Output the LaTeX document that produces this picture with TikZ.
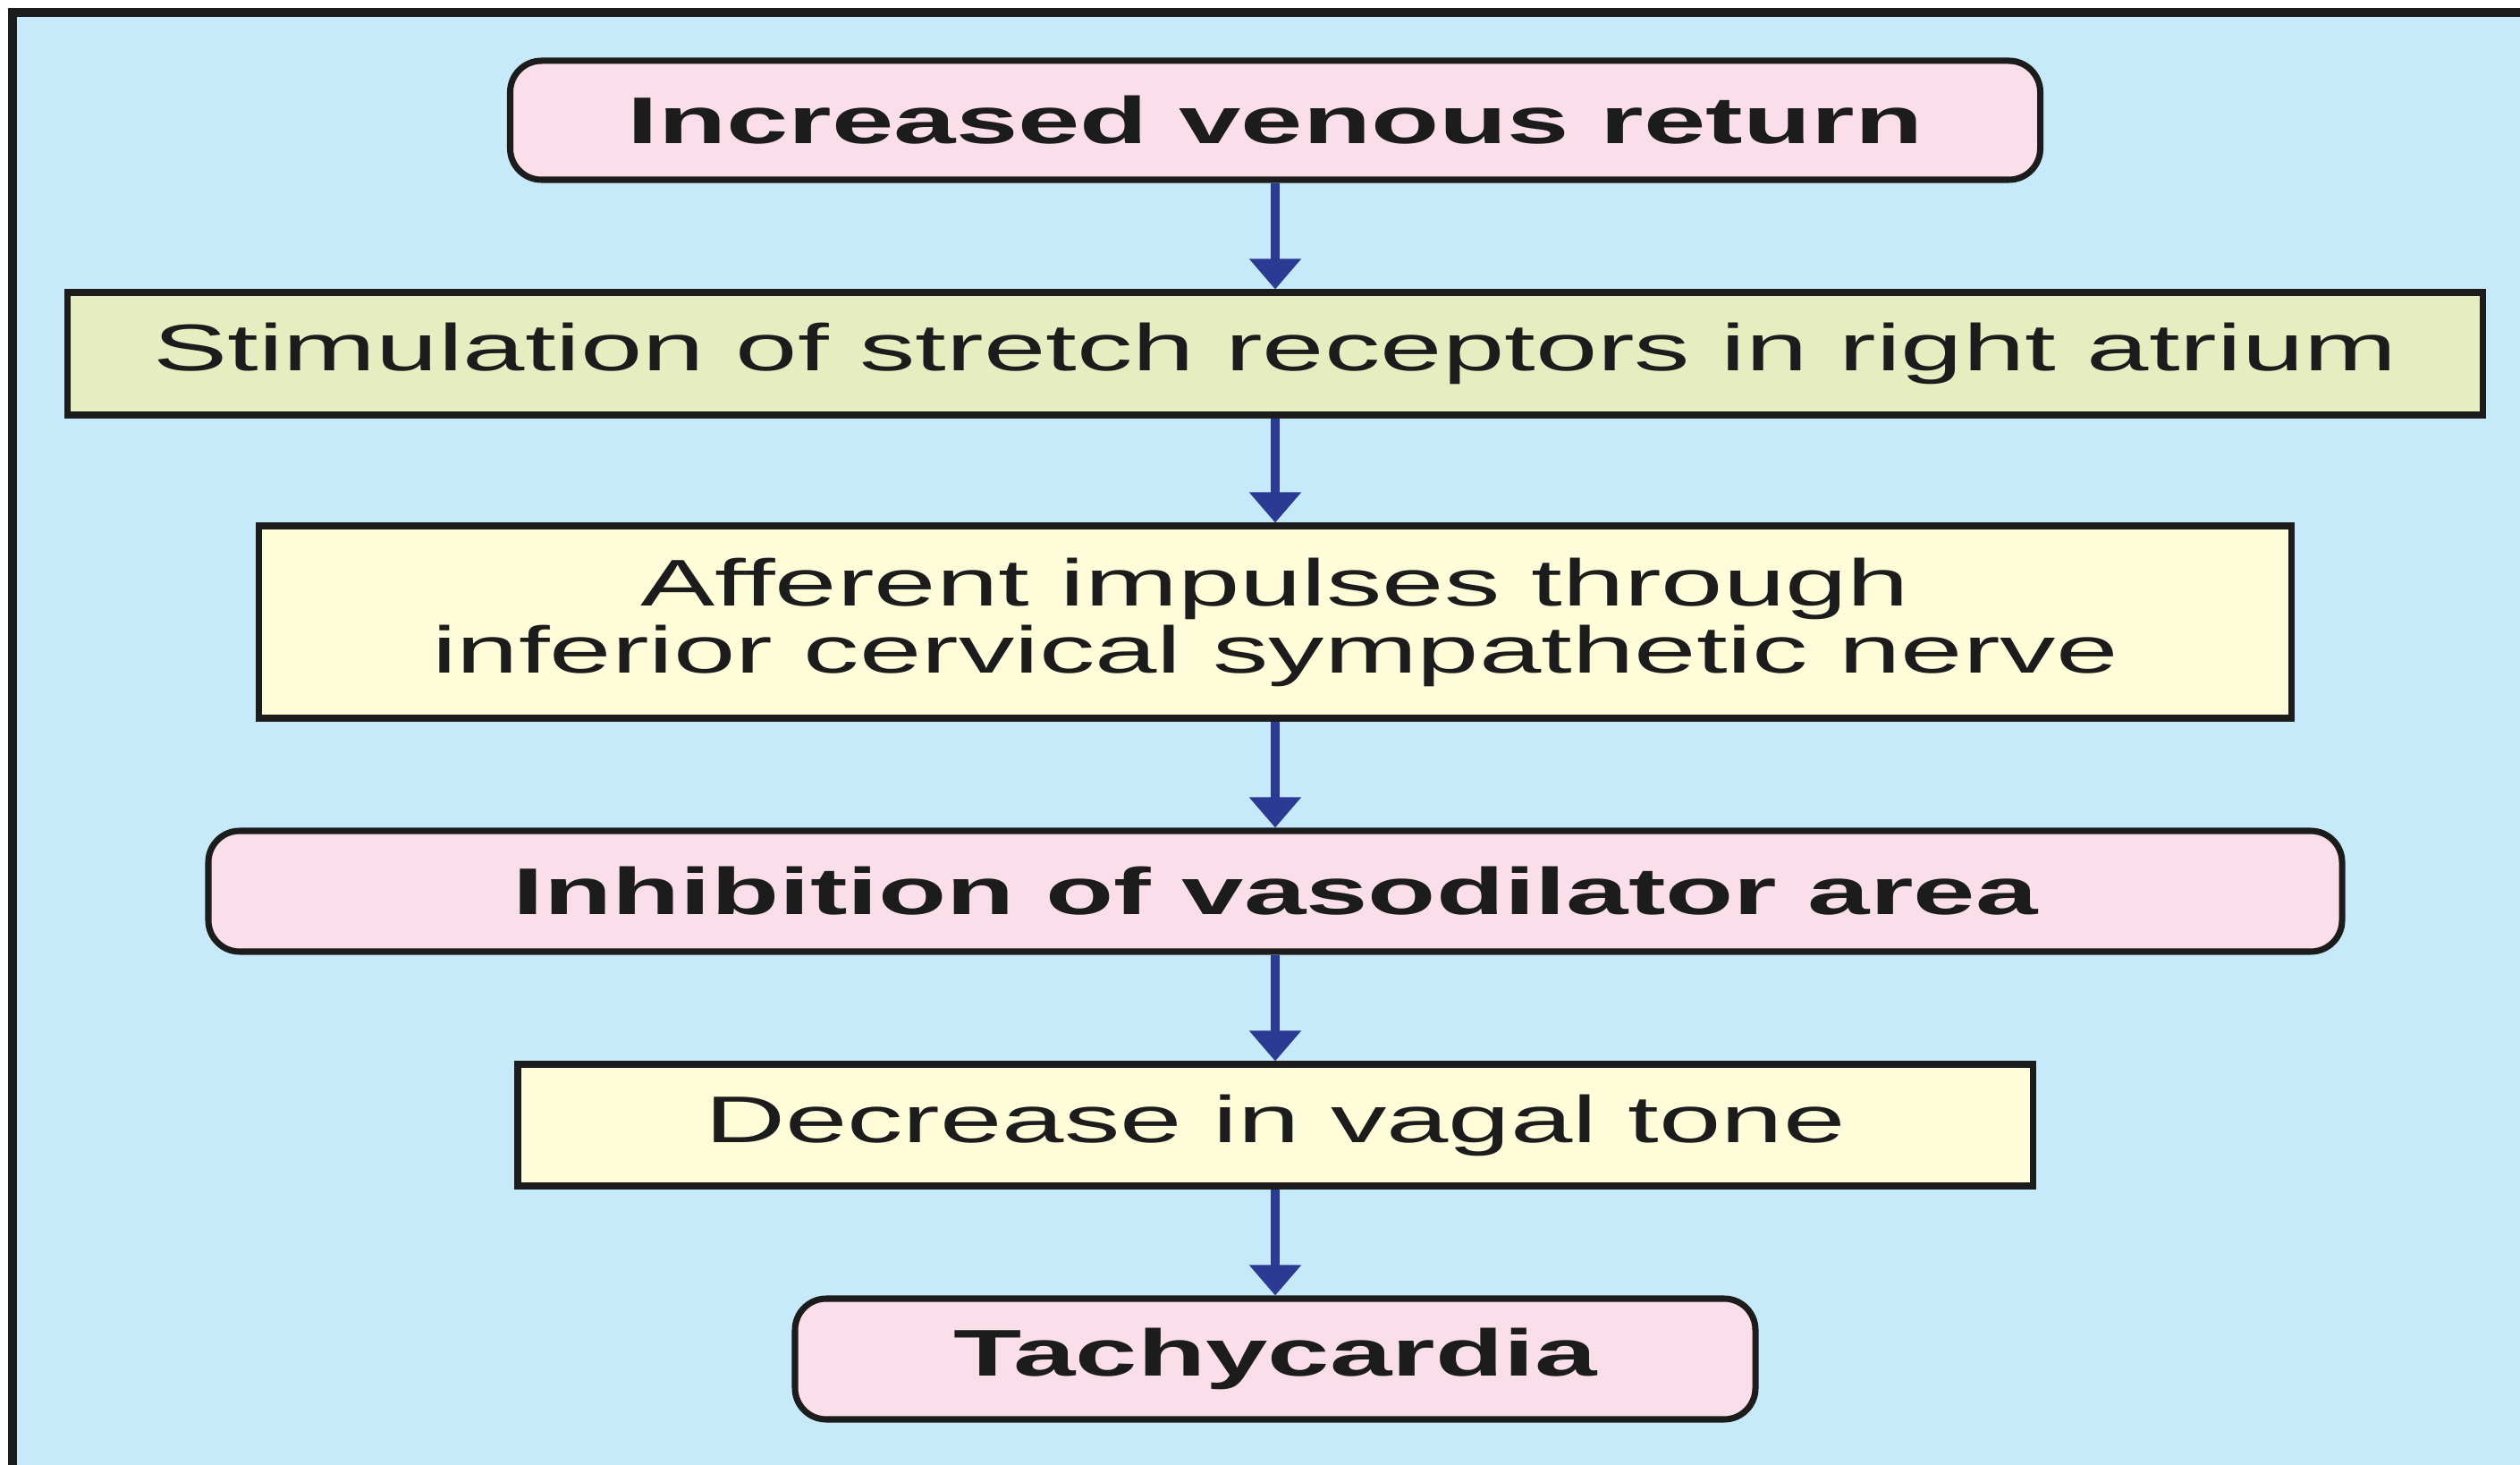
\documentclass[tikz,border=0pt]{standalone}
\usepackage{fontspec}
\setmainfont[FakeStretch=1.69]{Liberation Sans}
\usetikzlibrary{arrows.meta}
\definecolor{bgblue}{HTML}{C6EAF9}
\definecolor{boxpink}{HTML}{FADEEA}
\definecolor{boxgreen}{HTML}{E5EDC1}
\definecolor{boxyellow}{HTML}{FFFCDA}
\definecolor{flownavy}{HTML}{2B3A93}
\definecolor{inkgray}{HTML}{1C1C1C}

\begin{document}
\begin{tikzpicture}[every node/.style={draw=inkgray, line width=2pt, align=center, text=inkgray, inner sep=0pt, font=\fontsize{21}{21.3}\selectfont},
    pinkbox/.style={fill=boxpink, rounded corners=0.35cm, font=\fontsize{21}{21.3}\selectfont\bfseries},
    greenbox/.style={fill=boxgreen},
    yellowbox/.style={fill=boxyellow},
    flow/.style={flownavy, line width=2.8pt, -{Triangle[width=0.56cm, length=0.34cm]}}]
    \useasboundingbox (0,0) rectangle (28.18,-16.38);
    \fill[bgblue] (0.12,-0.12) rectangle (28.18,-16.38);
    \draw[inkgray, line width=2.8pt] (0.14,-16.38) -- (0.14,-0.14) -- (28.18,-0.14);
    \node[pinkbox, minimum width=17.11cm, minimum height=1.33cm] (venous) at (14.26,-1.345) {Increased venous return};
    \node[greenbox, minimum width=27.01cm, minimum height=1.37cm] (stretch) at (14.26,-3.955) {Stimulation of stretch receptors in right atrium};
    \node[yellowbox, minimum width=22.73cm, minimum height=2.15cm] (afferent) at (14.26,-6.955) {Afferent impulses through\\inferior cervical sympathetic nerve};
    \node[pinkbox, minimum width=23.86cm, minimum height=1.35cm] (inhib) at (14.26,-9.965) {Inhibition of vasodilator area};
    \node[yellowbox, minimum width=16.94cm, minimum height=1.36cm] (vagal) at (14.26,-12.58) {Decrease in vagal tone};
    \node[pinkbox, minimum width=10.74cm, minimum height=1.35cm] (tachy) at (14.26,-15.195) {Tachycardia};
    \draw[flow] (venous) -- (stretch);
    \draw[flow] (stretch) -- (afferent);
    \draw[flow] (afferent) -- (inhib);
    \draw[flow] (inhib) -- (vagal);
    \draw[flow] (vagal) -- (tachy);
  \end{tikzpicture}
\end{document}
